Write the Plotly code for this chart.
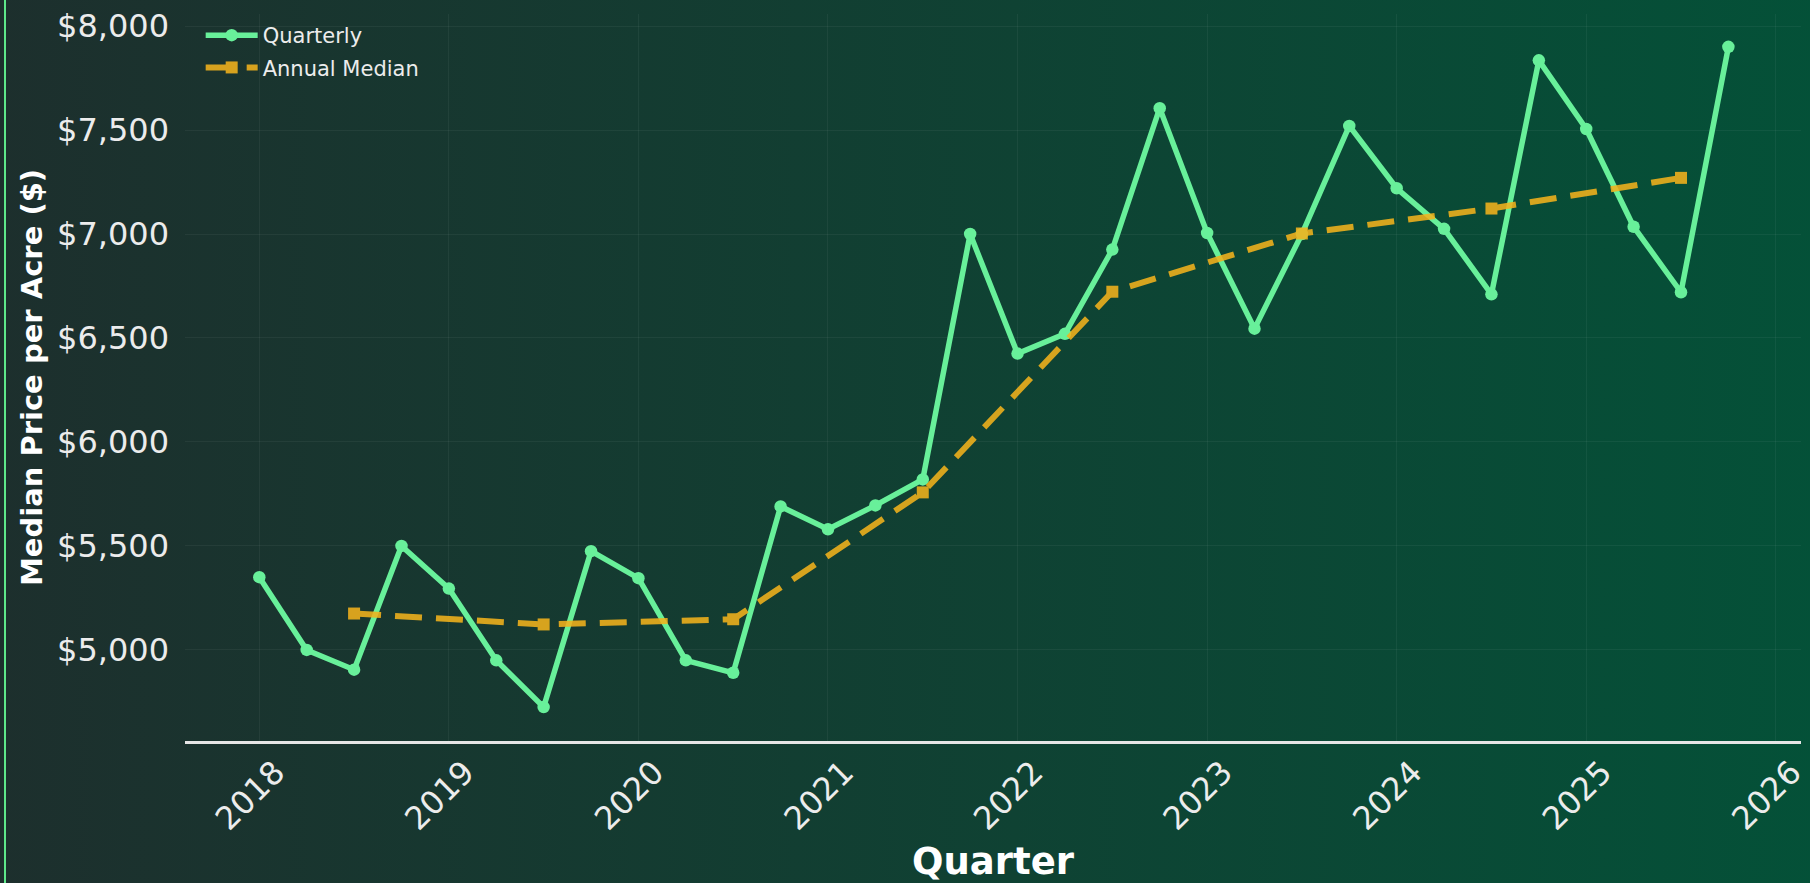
import base64
import plotly.graph_objects as go

# ---- data ----
years = [2018, 2019, 2020, 2021, 2022, 2023, 2024, 2025]
quarter_labels = [f"{y} Q{q}" for y in years for q in (1, 2, 3, 4)]
quarterly_values = [5350, 5000, 4905, 5500,
                    5295, 4950, 4725, 5475,
                    5345, 4950, 4890, 5690,
                    5580, 5695, 5820, 7000,
                    6425, 6520, 6925, 7605,
                    7005, 6545, 7000, 7520,
                    7220, 7025, 6710, 7835,
                    7505, 7035, 6720, 7900]
annual_median_values = [5175, 5122.5, 5147.5, 5757.5, 6722.5, 7002.5, 7122.5, 7270]
tick_years = [2018, 2019, 2020, 2021, 2022, 2023, 2024, 2025, 2026]
tick_labels = [str(y) for y in tick_years]

# numeric positions for quarters (year + fraction) and mid-year for annual median
quarterly_x = [int(l[:4]) + (int(l[-1]) - 1) / 4 for l in quarter_labels]
annual_x = [y + 0.5 for y in years]

FONT = "DejaVu Sans"
TXT = "#ececec"

fig = go.Figure()
fig.add_trace(go.Scatter(
    x=quarterly_x, y=quarterly_values, mode="lines+markers", name="Quarterly",
    line=dict(color="#68f09a", width=5.5),
    marker=dict(color="#68f09a", size=12.5),
    legendgroup="q",
))
fig.add_trace(go.Scatter(
    x=annual_x, y=annual_median_values, mode="lines+markers", name="Annual Median",
    line=dict(color="#f4b31c", width=6, dash="27px,14px"),
    marker=dict(color="#f4b31c", size=12, symbol="square"),
    opacity=0.87, legendgroup="m",
))

# gradient background as an SVG image
svg = ('<svg xmlns="http://www.w3.org/2000/svg" width="200" height="100" viewBox="0 0 200 100" '
       'preserveAspectRatio="none"><defs><linearGradient id="g" x1="0" y1="0" x2="1" y2="0">'
       '<stop offset="0" stop-color="#1d2f2d"/><stop offset="1" stop-color="#045138"/>'
       '</linearGradient></defs><rect width="200" height="100" fill="url(#g)"/></svg>')
src = "data:image/svg+xml;base64," + base64.b64encode(svg.encode()).decode()

W, H = 1810, 883
L, R, T, B = 185, 9, 7, 140
pw, ph = W - L - R, H - T - B
pad = 12

fig.add_layout_image(dict(
    source=src, xref="paper", yref="paper",
    x=-(L + pad) / pw, y=1 + (T + pad) / ph, sizex=(W + 2 * pad) / pw, sizey=(H + 2 * pad) / ph,
    xanchor="left", yanchor="top", sizing="stretch", layer="below",
))
fig.add_shape(type="line", xref="paper", yref="paper",
              x0=(5 - L) / pw, x1=(5 - L) / pw, y0=-(B + pad) / ph, y1=1 + (T + pad) / ph,
              line=dict(color="#5ee88a", width=2))

fig.update_layout(
    width=W, height=H,
    margin=dict(l=L, r=R, t=T, b=B),
    paper_bgcolor="#133a31", plot_bgcolor="rgba(0,0,0,0)",
    font=dict(family=FONT, color=TXT),
    showlegend=True,
    legend=dict(x=0.0097, y=1 - 1 / ph, xanchor="left", yanchor="top",
                bgcolor="rgba(0,0,0,0)", font=dict(size=21, color=TXT, family=FONT),
                itemwidth=52, traceorder="grouped", tracegroupgap=2),
    xaxis=dict(
        range=[2017.608, 2026.133], tickmode="array", tickvals=tick_years, ticktext=tick_labels,
        tickangle=-45, tickfont=dict(size=32, color=TXT, family=FONT),
        ticklabelshift=16, ticklabelstandoff=-3, ticks="", ticklabeloverflow="allow",
        automargin="height",
        showgrid=True, gridcolor="rgba(255,255,255,0.05)", gridwidth=1, zeroline=False,
        showline=True, linecolor="#e6e6e6", linewidth=2.5,
        title=dict(text="<b>Quarter</b>", font=dict(size=37, color="#ffffff", family=FONT), standoff=12),
    ),
    yaxis=dict(
        range=[4562, 8058], dtick=500, tick0=5000, tickprefix="$", tickformat=",d",
        tickfont=dict(size=32, color=TXT, family=FONT), ticks="",
        showgrid=True, gridcolor="rgba(255,255,255,0.05)", gridwidth=1, zeroline=False,
        showline=False, ticklabelstandoff=15,
        title=dict(text="<b>Median Price per Acre ($)</b>", font=dict(size=29, color="#ffffff", family=FONT), standoff=5),
    ),
)

fig.write_html(
    "out.html",
    config={"displayModeBar": False},
    post_script="document.body.style.margin='0';document.body.style.padding='0';"
                "document.body.style.overflow='hidden';",
)
